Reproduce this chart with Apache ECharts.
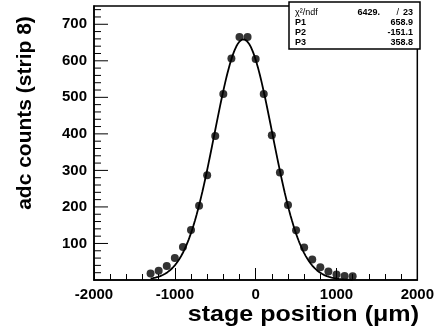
<!DOCTYPE html>
<html>
<head>
<meta charset="utf-8">
<script src="https://cdn.jsdelivr.net/npm/echarts@6/dist/echarts.min.js"></script>
<style>
  html, body { margin: 0; padding: 0; background: #fff; }
  #chart { width: 437px; height: 328px; }
</style>
</head>
<body>
<div id="chart"></div>
<script>
// stage positions (um) and adc counts for strip 8
const stagePos = [-1300, -1200, -1100, -1000, -900, -800, -700, -600, -500, -400, -300, -200, -100,
  0, 100, 200, 300, 400, 500, 600, 700, 800, 900, 1000, 1100, 1200];
const adcCounts = [18, 25, 38, 60, 90, 137, 203, 287, 394, 509, 606, 665, 665,
  605, 509, 396, 294, 205, 136, 89, 56, 35, 23, 15, 11, 10];

// gaussian fit: P1 (constant), P2 (mean), P3 (sigma)
const fitParams = [658.9, -151.1, 358.8];
const fitChi2 = '6429.';
const fitNdf = '23';
const statNames = ['P1', 'P2', 'P3'];

const yTickLabels = [100, 200, 300, 400, 500, 600, 700];
const xTickLabels = [-2000, -1000, 0, 1000, 2000];

const font = '"Liberation Sans", Arial, Helvetica, sans-serif';

// fit curve over the range of the points
function gaus(x) {
  const [c, m, s] = fitParams;
  return c * Math.exp(-0.5 * Math.pow((x - m) / s, 2));
}
let fitLine = [];
for (let x = stagePos[0]; x <= stagePos[stagePos.length - 1]; x += 10) {
  fitLine.push([x, gaus(x)]);
}

// y ticks drawn on the left axis: [x at axis, value, length px]
let yTicks = [];
for (let v = 20; v < 750; v += 20) {
  yTicks.push([xTickLabels[0], v, v % 100 === 0 ? 14 : 7]);
}

const chart = echarts.init(document.getElementById('chart'), null, { renderer: 'canvas' });

function txt(s, x, y, align, bold) {
  return {
    type: 'text', x: x, y: y, z: 11,
    style: { text: s, font: (bold ? 'bold ' : '') + '9px ' + font, fill: '#000', align: align, verticalAlign: 'middle' }
  };
}

let stats = [
  {
    type: 'rect', shape: { x: 289, y: 2, width: 131, height: 47 },
    style: { fill: '#fff', stroke: '#000', lineWidth: 1.5 }, z: 10
  },
  txt('χ²/ndf', 295, 13, 'left', false),
  txt(fitChi2, 380, 13, 'right', true),
  txt('/', 399, 13, 'right', false),
  txt(fitNdf, 413, 13, 'right', true)
];
statNames.forEach((n, i) => {
  stats.push(txt(n, 295, 23 + i * 10, 'left', true));
  stats.push(txt(fitParams[i].toFixed(1), 413, 23 + i * 10, 'right', true));
});

const axisBlack = { color: '#000', width: 1.5 };

const option = {
  animation: false,
  backgroundColor: '#fff',
  grid: {
    left: 94, right: 17, top: 6, bottom: 48,
    show: true, borderColor: '#000', borderWidth: 1.5, backgroundColor: 'transparent'
  },
  xAxis: {
    type: 'value',
    min: xTickLabels[0],
    max: xTickLabels[xTickLabels.length - 1],
    interval: 1000,
    axisLine: { show: true, onZero: false, lineStyle: axisBlack },
    axisTick: { show: true, inside: true, length: 12, lineStyle: { color: '#000', width: 1 } },
    minorTick: { show: true, splitNumber: 5, length: 6, lineStyle: { color: '#000', width: 1 } },
    splitLine: { show: false },
    axisLabel: {
      color: '#000', fontFamily: font, fontWeight: 'bold', fontSize: 15, margin: 7,
      formatter: v => String(v)
    }
  },
  yAxis: {
    type: 'value',
    min: 0,
    max: 750,
    interval: 100,
    axisLine: { show: true, onZero: false, lineStyle: axisBlack },
    axisTick: { show: false },
    splitLine: { show: false },
    axisLabel: {
      color: '#000', fontFamily: font, fontWeight: 'bold', fontSize: 15, margin: 7,
      formatter: v => (yTickLabels.indexOf(v) >= 0 ? String(v) : '')
    }
  },
  series: [{
    name: 'fit',
    type: 'line',
    data: fitLine,
    showSymbol: false,
    smooth: false,
    lineStyle: { color: '#000', width: 1.8 },
    z: 2
  }, {
    name: 'strip 8',
    type: 'scatter',
    data: stagePos.map((x, i) => [x, adcCounts[i]]),
    symbol: 'circle',
    symbolSize: 8,
    itemStyle: { color: '#000' },
    z: 3
  }, {
    name: 'yticks',
    type: 'custom',
    silent: true,
    encode: { x: 0, y: 1 },
    data: yTicks,
    renderItem: (params, api) => {
      const p = api.coord([api.value(0), api.value(1)]);
      const len = api.value(2);
      return {
        type: 'line',
        shape: { x1: p[0], y1: p[1], x2: p[0] + len, y2: p[1] },
        style: { stroke: '#000', lineWidth: 1 }
      };
    },
    z: 4
  }],
  graphic: [
    {
      type: 'text', x: 25, y: 113, rotation: Math.PI / 2,
      style: { text: 'adc counts (strip 8)', font: 'bold 21px ' + font, fill: '#000', align: 'center', verticalAlign: 'middle' }
    },
    {
      type: 'text', x: 419, y: 315, scaleX: 1.14,
      style: { text: 'stage position (μm)', font: 'bold 22px ' + font, fill: '#000', align: 'right', verticalAlign: 'middle' }
    }
  ].concat(stats)
};

chart.setOption(option);
</script>
</body>
</html>
